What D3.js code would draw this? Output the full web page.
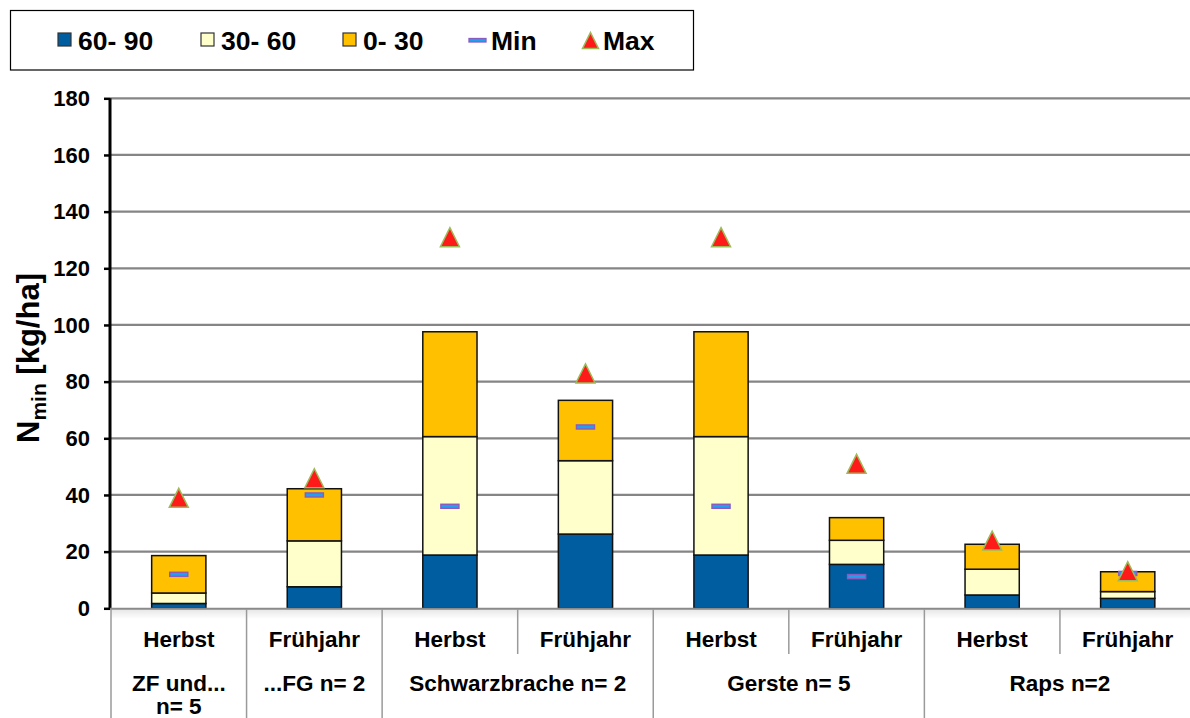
<!DOCTYPE html>
<html><head><meta charset="utf-8">
<script src="https://cdn.jsdelivr.net/npm/d3@7"></script>
<style>
html,body{margin:0;padding:0;background:#fff;overflow:hidden}
svg{display:block;font-family:"Liberation Sans",Arial,sans-serif;font-weight:bold}
</style></head>
<body>
<svg id="c" width="1190" height="718"></svg>
<script>
// ---- data ----
const seasons = ["Herbst","Frühjahr","Herbst","Frühjahr","Herbst","Frühjahr","Herbst","Frühjahr"];
const groups = [["ZF und...","n= 5"],["...FG n= 2"],["Schwarzbrache n= 2"],["Gerste n= 5"],["Raps n=2"]];
const groupSpans = [1,1,2,2,2];
const s60_90 = [1.7, 7.6, 18.8, 26.2, 18.8, 15.5, 4.7, 3.5];
const s30_60 = [3.7, 16.2, 41.8, 25.9, 41.8, 8.5, 9.1, 2.4];
const s0_30  = [13.2, 18.4, 37.0, 21.3, 37.0, 8.0, 8.8, 7.0];
const minVals = [12, 40, 36, 64, 36, 11.2, null, 12.3];
const maxVals = [39, 45.9, 131, 82.9, 131, 51, 23.9, 13.1];
const yTicks = [0,20,40,60,80,100,120,140,160,180];
const seriesNames = ["60- 90","30- 60","0- 30"];
const seriesColors = ["#005DA0","#FFFFCC","#FFC000"];

const svg = d3.select("#c");
const idx = d3.range(seasons.length);
const x = d3.scaleBand().domain(idx).range([111, 1195.5]).padding(0);
const y = d3.scaleLinear().domain([0,180]).range([608.3, 98.3]);
const bw = x.bandwidth()*0.4;

// gridlines
svg.append("g").selectAll("line").data(yTicks.filter(t=>t>0)).join("line")
  .attr("x1",110).attr("x2",1190).attr("y1",d=>y(d)).attr("y2",d=>y(d))
  .attr("stroke","#858585").attr("stroke-width",2.2);

// x-axis area gradient
const defs = svg.append("defs");
const lg = defs.append("linearGradient").attr("id","xg").attr("x1",0).attr("y1",0).attr("x2",0).attr("y2",1);
lg.append("stop").attr("offset",0).attr("stop-color","#e6e6e6");
lg.append("stop").attr("offset",1).attr("stop-color","#ffffff");
svg.append("rect").attr("x",111).attr("y",609).attr("width",1090).attr("height",10).attr("fill","url(#xg)");

// stacked bars
const rows = idx.map(i=>({i, a:s60_90[i], b:s30_60[i], c:s0_30[i]}));
const stack = d3.stack().keys(["a","b","c"])(rows);
svg.append("g").selectAll("g").data(stack).join("g")
  .attr("fill",(d,k)=>seriesColors[k])
  .selectAll("rect").data(d=>d).join("rect")
  .attr("x",d=>x(d.data.i)+(x.bandwidth()-bw)/2)
  .attr("width",bw)
  .attr("y",d=>y(d[1]))
  .attr("height",d=>y(d[0])-y(d[1]))
  .attr("stroke","#111").attr("stroke-width",1.5);

// min markers
svg.append("g").selectAll("rect").data(idx.filter(i=>minVals[i]!=null)).join("rect")
  .attr("x",i=>x(i)+x.bandwidth()/2-9).attr("y",i=>y(minVals[i])-2)
  .attr("width",18).attr("height",4)
  .attr("fill","#1FA2EE").attr("stroke","#8A5CC0").attr("stroke-width",1.5);

// max markers
const tri = (cx,cy,s)=>`M${cx},${cy-s/2}L${cx+s/2},${cy+s/2}L${cx-s/2},${cy+s/2}Z`;
svg.append("g").selectAll("path").data(idx).join("path")
  .attr("d",i=>tri(x(i)+x.bandwidth()/2, y(maxVals[i]), 19))
  .attr("fill","#FF1A1A").attr("stroke","#9BBB59").attr("stroke-width",1.5);

// y axis
const yAxis = d3.axisLeft(y).tickValues(yTicks).tickSize(6).tickPadding(14);
const ya = svg.append("g").attr("transform","translate(110,0)").call(yAxis);
ya.select(".domain").attr("stroke","#000").attr("stroke-width",3).attr("d","M0,"+y(180)+"V"+y(0));
ya.selectAll(".tick line").attr("stroke","#000").attr("stroke-width",2.5);
ya.selectAll(".tick text").attr("font-size",22).attr("font-weight","bold")
  .attr("font-family","'Liberation Sans',Arial,sans-serif").attr("fill","#000");

// x axis line
svg.append("line").attr("x1",110).attr("x2",1195).attr("y1",608.8).attr("y2",608.8)
  .attr("stroke","#8a8a8a").attr("stroke-width",2);

// season labels
svg.append("g").selectAll("text").data(idx).join("text")
  .attr("x",i=>x(i)+x.bandwidth()/2).attr("y",639).attr("dy","0.35em")
  .attr("text-anchor","middle").attr("font-size",22.5).text(i=>seasons[i]);

// separators
let pos = 0;
const groupStarts = groupSpans.map(s=>{const p=pos; pos+=s; return p;});
const groupBounds = groupStarts.map(p=>x(p));
svg.append("g").selectAll("line").data(groupBounds).join("line")
  .attr("x1",d=>d).attr("x2",d=>d).attr("y1",609).attr("y2",718)
  .attr("stroke","#9a9a9a").attr("stroke-width",1.5);
const inner = idx.filter(i=>i>0 && !groupStarts.includes(i));
svg.append("g").selectAll("line").data(inner).join("line")
  .attr("x1",i=>x(i)).attr("x2",i=>x(i)).attr("y1",609).attr("y2",654)
  .attr("stroke","#9a9a9a").attr("stroke-width",1.5);

// group labels
const gl = svg.append("g").selectAll("text").data(groups).join("text")
  .attr("text-anchor","middle").attr("font-size",22.5)
  .attr("transform",(d,k)=>`translate(${x(groupStarts[k]) + x.bandwidth()*groupSpans[k]/2},683)`);
gl.selectAll("tspan").data(d=>d).join("tspan")
  .attr("x",0).attr("y",(d,j)=>j*23).attr("dy","0.35em").text(d=>d);

// y axis title
const yt = svg.append("text").attr("transform","translate(39,358) rotate(-90)")
  .attr("text-anchor","middle").attr("font-size",31);
yt.append("tspan").text("N");
yt.append("tspan").attr("font-size",21).attr("dy",7).text("min");
yt.append("tspan").attr("dy",-7).text(" [kg/ha]");

// legend
svg.append("rect").attr("x",10.5).attr("y",10.5).attr("width",683).attr("height",59.5)
  .attr("fill","#fff").attr("stroke","#000").attr("stroke-width",1.2);
const legItems = [
  {type:"sq", color:seriesColors[0], x:58, label:seriesNames[0], tx:78},
  {type:"sq", color:seriesColors[1], x:201, label:seriesNames[1], tx:221},
  {type:"sq", color:seriesColors[2], x:343, label:seriesNames[2], tx:363},
  {type:"min", x:469, label:"Min", tx:491},
  {type:"max", x:590.5, label:"Max", tx:603}
];
const lgG = svg.append("g");
legItems.forEach(it=>{
  if(it.type==="sq"){
    lgG.append("rect").attr("x",it.x).attr("y",33).attr("width",13).attr("height",13)
      .attr("fill",it.color).attr("stroke","#333").attr("stroke-width",1.2);
  } else if(it.type==="min"){
    lgG.append("rect").attr("x",it.x).attr("y",38.5).attr("width",17).attr("height",3.5)
      .attr("fill","#1FA2EE").attr("stroke","#8A5CC0").attr("stroke-width",1.3);
  } else {
    lgG.append("path").attr("d",tri(it.x,40.5,16)).attr("fill","#FF1A1A")
      .attr("stroke","#9BBB59").attr("stroke-width",1.5);
  }
  lgG.append("text").attr("x",it.tx).attr("y",49.5).attr("font-size",26.5).text(it.label);
});
</script>
</body></html>
